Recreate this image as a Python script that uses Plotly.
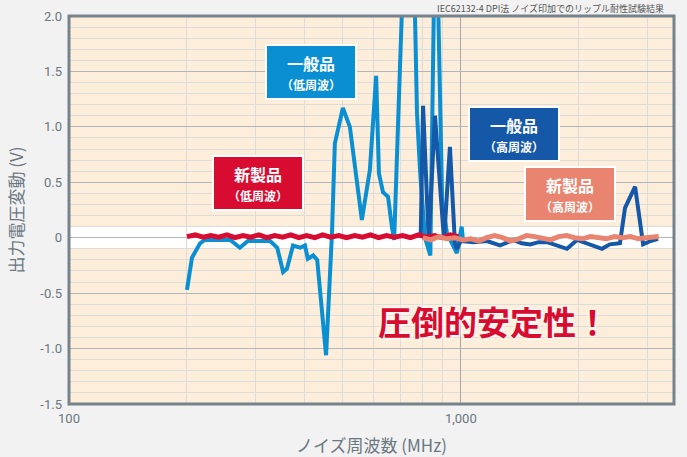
import plotly.graph_objects as go

# ---- data ----
lb_f = [200, 206, 216, 222, 258, 273, 286, 326, 340, 352, 360, 373, 389, 400, 407, 420, 430, 453,
        469, 477, 500, 521, 559, 586, 608, 618, 633, 652, 667, 676, 692, 713, 760, 773, 787, 810,
        836, 856, 872, 896, 922, 977, 1005, 1013]
lb_v = [-0.47, -0.18, -0.05, -0.02, -0.02, -0.09, -0.03, -0.03, -0.09, -0.31, -0.28, -0.07, -0.09,
        -0.07, -0.19, -0.16, -0.20, -1.06, 0.04, 0.85, 1.17, 1.00, 0.16, 0.61, 1.46, 0.58, 0.41,
        0.37, 0.10, -0.02, 1.06, 2.4, 2.4, 1.12, 0.60, 0.00, -0.16, 2.4, 2.4, 0.34, 0.04, -0.14,
        0.10, -0.02]

db_f = [790, 801, 828, 859, 906, 938, 966, 977, 1000, 1080, 1167, 1259, 1359, 1430, 1503, 1580,
        1660, 1760, 1866, 1980, 2100, 2293, 2400, 2548, 2625, 2785, 2919, 3050, 3187]
db_v = [0.00, 1.19, -0.02, 1.10, -0.02, 0.82, -0.05, -0.10, -0.03, -0.04, -0.03, -0.07, -0.02,
        -0.05, -0.06, -0.04, -0.04, -0.07, -0.10, -0.02, -0.05, -0.10, -0.06, -0.05, 0.27, 0.46,
        -0.06, -0.03, -0.01]

rd_f = [200, 210, 220, 230, 241, 253, 265, 278, 291, 305, 320, 335, 351, 368, 386, 404, 424, 444,
        465, 488, 511, 536, 561, 588, 617, 646, 677, 710, 744, 780, 817, 857, 898, 941, 986]
rd_v = [0.01, 0.025, 0.005, 0.02, 0.005, 0.025, 0.00, 0.02, 0.005, 0.025, 0.00, 0.02, 0.005, 0.025,
        0.00, 0.02, 0.00, 0.025, 0.005, 0.02, 0.00, 0.02, 0.005, 0.025, 0.00, 0.02, 0.005, 0.02,
        0.00, 0.025, 0.005, 0.02, 0.00, 0.025, 0.01]

sm_f = [800, 838, 878, 921, 965, 1011, 1060, 1111, 1164, 1220, 1279, 1340, 1405, 1472, 1543, 1617,
        1695, 1776, 1862, 1951, 2045, 2143, 2246, 2354, 2467, 2585, 2709, 2840, 2976, 3119, 3200]
sm_v = [0.00, -0.02, 0.01, -0.01, 0.00, -0.02, -0.01, -0.03, 0.00, 0.02, 0.00, -0.03, -0.01, 0.02,
        0.01, 0.00, -0.02, 0.01, 0.02, 0.00, -0.01, 0.01, 0.00, -0.01, 0.01, 0.00, 0.01, -0.01,
        0.00, 0.00, 0.01]

x_ticks = [100, 1000, 3500]
x_ticktext = ["100", "1,000", "3,500"]
x_minor = [200, 300, 400, 500, 600, 700, 800, 900, 2000, 3000]
y_ticks = [-1.5, -1.0, -0.5, 0, 0.5, 1.0, 1.5, 2.0]
y_ticktext = ["-1.5", "-1.0", "-0.5", "0", "0.5", "1.0", "1.5", "2.0"]

C_LB = "#0b8fd3"
C_DB = "#1558a8"
C_RD = "#d80b30"
C_SM = "#e8846f"
GREY = "#6b7781"
JP = "Noto Sans CJK JP"

fig = go.Figure()
fig.add_trace(go.Scatter(x=lb_f, y=lb_v, mode="lines", line=dict(color=C_LB, width=4)))
fig.add_trace(go.Scatter(x=db_f, y=db_v, mode="lines", line=dict(color=C_DB, width=4)))
fig.add_trace(go.Scatter(x=rd_f, y=rd_v, mode="lines", line=dict(color=C_RD, width=5)))
fig.add_trace(go.Scatter(x=sm_f, y=sm_v, mode="lines", line=dict(color=C_SM, width=5)))

# white band around zero
fig.add_shape(type="rect", xref="paper", yref="y", x0=0, x1=1, y0=-0.1, y1=0.1,
              fillcolor="white", line=dict(width=0), layer="below")
# frame
fig.add_shape(type="rect", xref="paper", yref="paper", x0=0, x1=1, y0=0, y1=1,
              line=dict(color="#76838c", width=3), layer="above")

def box(text, sub, x, y, color, w=84, h=48):
    fig.add_annotation(
        xref="paper", yref="paper", x=x, y=y, xanchor="center", yanchor="middle",
        text=f"<b>{text}</b><br><span style='font-size:12px'><b>{sub}</b></span>",
        showarrow=False, bgcolor=color, bordercolor="white", borderwidth=2, borderpad=2,
        width=w, height=h, align="center",
        font=dict(family=JP, size=16, color="white"))

box("一般品", "（低周波）", 0.400, 0.855, C_LB)
box("新製品", "（低周波）", 0.313, 0.570, C_RD)
box("一般品", "（高周波）", 0.736, 0.697, C_DB)
box("新製品", "（高周波）", 0.828, 0.540, C_SM)

fig.add_annotation(xref="paper", yref="paper", x=0.702, y=0.215, xanchor="center",
                   yanchor="middle", showarrow=False, text="<b>圧倒的安定性！</b>",
                   font=dict(family=JP, size=33, color=C_RD,
                             shadow="0px 0px 3px white, 0px 0px 5px white"))

# title in top strip
fig.add_annotation(xref="paper", yref="paper", x=0.985, y=1.0, xanchor="right",
                   yanchor="bottom", yshift=0, showarrow=False, borderpad=0,
                   text="IEC62132-4 DPI法 ノイズ印加でのリップル耐性試験結果",
                   font=dict(family=JP, size=9, color="#555555"))

fig.update_layout(
    width=687, height=457,
    margin=dict(l=69, r=13, t=16, b=53, autoexpand=False),
    paper_bgcolor="#f2f2f2", plot_bgcolor="#fdeedb",
    showlegend=False,
    font=dict(family="Roboto", color=GREY, size=13),
)
fig.update_xaxes(
    type="log", range=[2, 3.5441], tickvals=x_ticks, ticktext=x_ticktext,
    showgrid=True, gridcolor="#a3a9ad", gridwidth=1, zeroline=False, automargin=False,
    showline=False, ticks="", ticklabelstandoff=5,
    minor=dict(tickvals=x_minor, showgrid=True, gridcolor="#dddcd8", gridwidth=1, ticks=""),
    tickfont=dict(size=13, color=GREY),
    title=dict(text="ノイズ周波数 (MHz)", font=dict(family=JP, size=17, color=GREY), standoff=18),
)
fig.update_yaxes(
    range=[-1.5, 2.0], tickvals=y_ticks, ticktext=y_ticktext,
    showgrid=True, gridcolor="#b3b6b8", gridwidth=1, zeroline=False, automargin=False,
    showline=False, ticks="", ticklabelstandoff=6,
    minor=dict(dtick=0.1, showgrid=True, gridcolor="#dddcd8", gridwidth=1, ticks=""),
    tickfont=dict(size=13, color=GREY),
    title=dict(text="出力電圧変動 (V)", font=dict(family=JP, size=17, color=GREY), standoff=12),
)

fig.write_html("out.html", config={"displayModeBar": False},
               post_script="document.body.style.margin='0';document.body.style.background='#f2f2f2';")
